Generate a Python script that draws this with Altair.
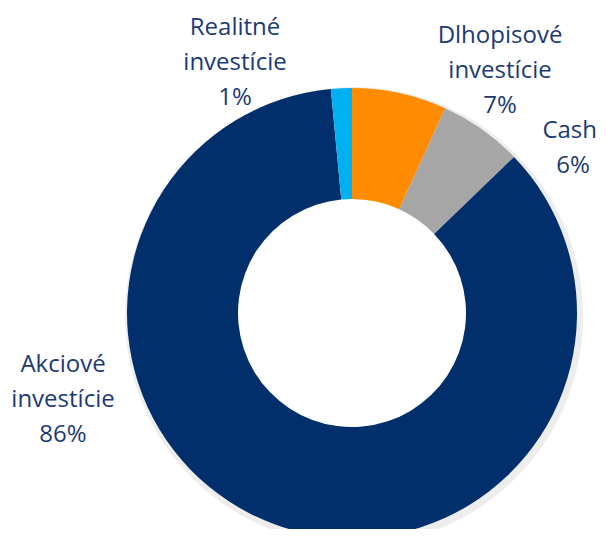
import altair as alt
import pandas as pd

categories = ["Dlhopisové investície", "Cash", "Akciové investície", "Realitné investície"]
values = [6.8, 6.0, 85.7, 1.5]
label_lines = [["Dlhopisové", "investície", "7%"], ["Cash", "6%"], ["Akciové", "investície", "86%"], ["Realitné", "investície", "1%"]]
colors = ["#FF8C00", "#A6A6A6", "#002F6C", "#00B0F0"]

df = pd.DataFrame({"cat": categories, "val": values, "ord": list(range(len(categories)))})

CX, CY = 344, 305
R_OUT, R_IN = 225, 114
TEXT_COLOR = "#1C3A74"
FONT = "Open Sans"
FS = 24

shadow = alt.Chart(df).mark_arc(outerRadius=R_OUT + 4, innerRadius=R_OUT - 6, color="#000000", opacity=0.07).encode(
    theta=alt.Theta("val:Q", stack=True), order=alt.Order("ord:Q"),
    x=alt.value(CX + 2), y=alt.value(CY + 3)
)

arcs = alt.Chart(df).mark_arc(outerRadius=R_OUT, innerRadius=R_IN).encode(
    theta=alt.Theta("val:Q", stack=True),
    order=alt.Order("ord:Q"),
    color=alt.Color("cat:N", scale=alt.Scale(domain=categories, range=colors), legend=None),
    x=alt.value(CX), y=alt.value(CY),
)

# (x, y, align) for the first line of each label
label_pos = [(492, 28, "center"), (565, 123, "center"), (55, 357, "center"), (227, 20, "center")]
LINE_H = 35
layers = [shadow, arcs]
for lines, (lx, ly, al) in zip(label_lines, label_pos):
    for i, t in enumerate(lines):
        x = lx
        a = al
        if t == "Cash":
            x, a = 589, "right"
        layers.append(
            alt.Chart(pd.DataFrame({"t": [t]})).mark_text(
                font=FONT, fontSize=FS, color=TEXT_COLOR, align=a, baseline="middle"
            ).encode(text="t:N", x=alt.value(x), y=alt.value(ly + i * LINE_H))
        )

chart = alt.layer(*layers).properties(
    width=590, height=521, padding=0,
    autosize=alt.AutoSizeParams(type="fit", contains="padding"),
).configure_view(stroke=None)

chart.save("out.html", embed_options={"renderer": "svg", "actions": False})
